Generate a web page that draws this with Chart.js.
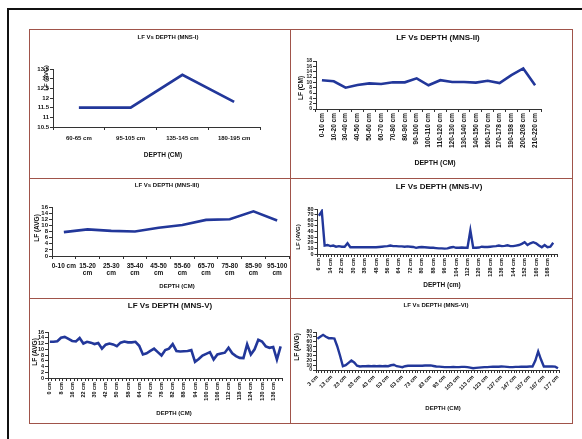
<!DOCTYPE html>
<html>
<head>
<meta charset="utf-8">
<title>LF Vs DEPTH</title>
<script src="https://cdn.jsdelivr.net/npm/chart.js@4.4.1/dist/chart.umd.min.js"></script>
<style>
  html, body { margin: 0; padding: 0; background: #fff; }
  body { width: 582px; height: 439px; position: relative; overflow: hidden; }
  .frame { position: absolute; left: 7px; top: 8px; width: 620px; height: 480px; border-left: 2px solid #111; border-top: 2px solid #111; }
  .ln { position: absolute; background: #a0544a; }
  canvas { position: absolute; }
</style>
</head>
<body>
<div class="frame"></div>
<canvas id="mns1"></canvas>
<canvas id="mns2"></canvas>
<canvas id="mns3"></canvas>
<canvas id="mns4"></canvas>
<canvas id="mns5"></canvas>
<canvas id="mns6"></canvas>
<div class="ln" style="left:29px;top:29px;width:544px;height:1px"></div>
<div class="ln" style="left:29px;top:178px;width:544px;height:1px"></div>
<div class="ln" style="left:29px;top:298px;width:544px;height:1px"></div>
<div class="ln" style="left:29px;top:423px;width:544px;height:1px"></div>
<div class="ln" style="left:29px;top:29px;width:1px;height:395px"></div>
<div class="ln" style="left:290px;top:29px;width:1px;height:395px"></div>
<div class="ln" style="left:572px;top:29px;width:1px;height:395px"></div>
<script>
// MNS-I
const mns1Depth = ["60-65 cm", "95-105 cm", "135-145 cm", "180-195 cm"]
const mns1Lf = [11.5, 11.5, 13.2, 11.8]
const mns1Ticks = [10.5, 11, 11.5, 12, 12.5, 13, 13.5]

// MNS-II
const mns2Depth = ["0-10 cm", "10-20 cm", "30-40 cm", "40-50 cm", "50-60 cm", "60-70 cm", "70-80 cm",
  "80-90 cm", "90-100 cm", "100-110 cm", "110-120 cm", "120-130 cm", "130-140 cm", "140-150 cm",
  "160-170 cm", "170-178 cm", "190-198 cm", "200-208 cm", "210-220 cm"]
const mns2Lf = [10.8, 10.4, 8.0, 9.0, 9.6, 9.4, 10.0, 10.0, 11.5, 8.9, 10.8, 10.1, 10.1, 9.9, 10.6, 9.7, 12.7, 15.2, 8.9]
const mns2Ticks = [0, 2, 4, 6, 8, 10, 12, 14, 16, 18]

// MNS-III
const mns3Depth = ["0-10 cm", "15-20 cm", "25-30 cm", "35-40 cm", "45-50 cm", "55-60 cm", "65-70 cm",
  "75-80 cm", "85-90 cm", "95-100 cm"]
const mns3Lf = [7.8, 8.7, 8.2, 8.0, 9.2, 10.1, 11.8, 12.0, 14.6, 11.6]
const mns3Ticks = [0, 2, 4, 6, 8, 10, 12, 14, 16]

// MNS-IV (depth in cm)
const mns4Depth = [6, 8, 10, 12, 14, 16, 18, 20, 22, 24, 26, 28, 30, 32, 34, 36, 38,
  42, 44, 46, 48, 50, 52, 54, 56, 58, 60, 62, 64, 66, 68, 70, 72, 74, 76, 78, 80, 82, 84, 86, 88,
  90, 92, 94, 96, 98, 100, 102, 104, 106, 108, 110, 112, 114, 116, 118, 120, 122, 124, 126, 128,
  130, 132, 134, 136, 138, 140, 142, 144, 146, 148, 150, 152, 154, 156, 158, 160, 162, 164, 166,
  168, 170, 172, 174]
const mns4Lf = [68, 76, 15, 16, 14, 15, 13, 14, 13, 13, 19, 12,
  12, 12, 12, 12, 12, 12, 12, 12, 12, 12.5, 13, 13.5, 14, 15, 14, 14, 13.5, 13.5, 13, 13.5,
  13, 12.5, 11, 12, 12.5, 12, 11.5, 11, 11, 10.5, 10, 10, 9.5, 10, 11.5, 12.5, 11, 11, 11.5,
  11, 11, 42, 11, 11, 11.5, 13, 12.5, 12.5, 13, 13.5, 14, 15, 14, 14.5, 15.5, 14, 14, 15,
  16, 18, 21, 16, 19, 21, 19, 15, 12, 16, 12, 13, 20]
const mns4Ticks = [0, 10, 20, 30, 40, 50, 60, 70, 80]

// MNS-V (depth in cm)
const mns5Depth = [0, 2, 4, 8, 10, 12, 16, 18, 20, 22, 24, 26, 30, 34, 38, 42, 44, 46, 50, 52, 54,
  58, 60, 62, 64, 66, 68, 70, 72, 74, 78, 80, 81, 82, 84, 86, 88, 90, 92, 94, 96, 98, 100, 102,
  104, 106, 108, 110, 112, 114, 116, 118, 120, 122, 124, 126, 128, 130, 132, 134, 136, 138, 140]
const mns5Lf = [12.6, 12.6, 12.8, 14.0, 14.3, 13.6, 12.9, 12.7, 13.9, 12.0, 12.6, 12.3, 11.8,
  12.2, 10.2, 11.6, 12.0, 11.7, 11.1, 12.3, 12.7, 12.4, 12.4, 12.6, 11.2, 8.2, 8.6, 9.4, 10.2,
  9.0, 7.8, 9.7, 10.2, 11.8, 9.4, 9.2, 9.3, 9.4, 9.7, 5.6, 6.6, 7.8, 8.4, 9.0, 6.4, 8.2, 8.5,
  8.8, 10.5, 8.6, 7.6, 7.0, 6.9, 11.7, 8.2, 10.0, 13.3, 12.7, 11.0, 10.5, 10.8, 6.4, 11.0]
const mns5Ticks = [0, 2, 4, 6, 8, 10, 12, 14, 16]

// MNS-VI (depth in cm)
const mns6Depth = [3, 5, 7, 9, 11, 13, 15, 17, 19, 21, 23, 25, 27, 29, 31, 33, 35, 37, 39, 41, 43,
  45, 47, 49, 51, 53, 55, 57, 59, 61, 63, 65, 67, 69, 71, 73, 75, 77, 79, 81, 83, 85, 87, 89, 91,
  93, 95, 97, 99, 101, 103, 105, 107, 109, 111, 113, 115, 117, 119, 121, 123, 129, 131, 133, 135,
  137, 139, 141, 143, 145, 147, 149, 151, 153, 155, 157, 159, 161, 163, 165, 167, 169, 171, 173,
  175, 177]
const mns6Lf = [66, 70, 74, 70, 67, 67, 66, 50, 30, 8, 10, 15, 20, 16, 9, 7.5, 8, 8, 8.5, 8, 8.5,
  8, 8.5, 8, 8.5, 8, 10, 11, 8, 7, 6, 8, 9, 9, 9, 9, 9, 9, 9.5, 9.5, 9.6, 8.5, 7.5, 7, 6.5, 6, 6,
  6, 6.5, 6, 6, 6.5, 6.5, 6, 5, 3.7, 4.5, 5, 5.5, 6, 6, 6.5, 6.7, 7, 7, 7.4, 7, 6.5, 6, 6, 6.5,
  6.5, 6.7, 7, 7, 7.4, 7.4, 20, 39, 22, 7.4, 7.4, 7.4, 7.4, 7, 3.5]
const mns6Ticks = [0, 10, 20, 30, 40, 50, 60, 70, 80]

const BLUE = "#22379a"
const AXIS = "#333333"
const INK = "#111111"
const FONT = "'Liberation Sans', Arial, sans-serif"

const cm = d => d + " cm"

const panels = [
  {
    id: "mns1", labels: mns1Depth, data: mns1Lf, yTicks: mns1Ticks,
    box: { x: 30, y: 30, w: 260, h: 148 }, area: { l: 53, t: 69, r: 260, b: 127 },
    title: { text: "LF Vs DEPTH (MNS-I)", x: 168, y: 37, size: 6 },
    xTitle: { text: "DEPTH (CM)", x: 163, y: 155, size: 6.5 },
    yTitle: { text: "LF (AVG)", x: 46, y: 78, size: 6 },
    every: 1, rotation: 0, xFont: 6, yFont: 6, xPad: 5, lineWidth: 2.8,
  },
  {
    id: "mns2", labels: mns2Depth, data: mns2Lf, yTicks: mns2Ticks,
    box: { x: 291, y: 30, w: 281, h: 148 }, area: { l: 316, t: 61, r: 541, b: 109 },
    title: { text: "LF Vs DEPTH (MNS-II)", x: 438, y: 38, size: 8 },
    xTitle: { text: "DEPTH (CM)", x: 435, y: 163, size: 7 },
    yTitle: { text: "LF (CM)", x: 301, y: 88, size: 6.5 },
    every: 1, rotation: 90, xFont: 6.5, yFont: 5, xPad: 1, lineWidth: 2.6,
  },
  {
    id: "mns3", labels: mns3Depth, data: mns3Lf, yTicks: mns3Ticks, wrap: true,
    box: { x: 30, y: 179, w: 260, h: 119 }, area: { l: 52, t: 207, r: 289, b: 256 },
    title: { text: "LF Vs DEPTH (MNS-III)", x: 167, y: 185, size: 6 },
    xTitle: { text: "DEPTH (CM)", x: 177, y: 286, size: 6 },
    yTitle: { text: "LF (AVG)", x: 37, y: 228, size: 6.5 },
    every: 1, rotation: 0, xFont: 6.5, yFont: 6, xPad: 3, lineWidth: 2.6,
  },
  {
    id: "mns4", labels: mns4Depth.map(cm), data: mns4Lf, yTicks: mns4Ticks,
    box: { x: 291, y: 179, w: 281, h: 119 }, area: { l: 317.5, t: 209, r: 557.5, b: 254 },
    title: { text: "LF Vs DEPTH (MNS-IV)", x: 439, y: 187, size: 8 },
    xTitle: { text: "DEPTH (cm)", x: 442, y: 285, size: 6.5 },
    yTitle: { text: "LF (AVG)", x: 298, y: 237, size: 6 },
    every: 4, rotation: 90, xFont: 5.5, yFont: 5.5, xPad: 1, lineWidth: 2.4,
  },
  {
    id: "mns5", labels: mns5Depth.map(cm), data: mns5Lf, yTicks: mns5Ticks,
    box: { x: 30, y: 299, w: 260, h: 124 }, area: { l: 48, t: 332, r: 282.5, b: 378 },
    title: { text: "LF Vs DEPTH (MNS-V)", x: 170, y: 306, size: 8 },
    xTitle: { text: "DEPTH (CM)", x: 174, y: 413, size: 6 },
    yTitle: { text: "LF (AVG)", x: 35, y: 352, size: 6.5 },
    every: 3, rotation: 90, xFont: 5.5, yFont: 5.5, xPad: 1, lineWidth: 2.6,
  },
  {
    id: "mns6", labels: mns6Depth.map(cm), data: mns6Lf, yTicks: mns6Ticks,
    box: { x: 291, y: 299, w: 281, h: 124 }, area: { l: 316, t: 332, r: 559.4, b: 370 },
    title: { text: "LF Vs DEPTH (MNS-VI)", x: 436, y: 305, size: 6 },
    xTitle: { text: "DEPTH (CM)", x: 443, y: 408, size: 6 },
    yTitle: { text: "LF (AVG)", x: 297, y: 347, size: 6.5 },
    every: 5, rotation: 45, xFont: 5.5, yFont: 5, xPad: 1, lineWidth: 2.4,
  },
]

// titles are written at fixed spots so they sit where the original has them
const panelText = p => ({
  id: "panelText",
  afterDraw(chart) {
    const ctx = chart.ctx
    ctx.save()
    ctx.fillStyle = INK
    ctx.textAlign = "center"
    ctx.textBaseline = "middle"
    ;[p.title, p.xTitle, p.yTitle].forEach((t, i) => {
      ctx.save()
      ctx.font = "bold " + t.size + "px " + FONT
      ctx.translate(t.x - p.box.x, t.y - p.box.y)
      if (i === 2) ctx.rotate(-Math.PI / 2)
      ctx.fillText(t.text, 0, 0)
      ctx.restore()
    })
    ctx.restore()
  },
})

panels.forEach(p => {
  const el = document.getElementById(p.id)
  el.width = p.box.w
  el.height = p.box.h
  el.style.left = p.box.x + "px"
  el.style.top = p.box.y + "px"

  const yW = p.area.l - p.box.x
  const xH = p.box.y + p.box.h - p.area.b

  new Chart(el, {
    type: "line",
    data: {
      labels: p.labels,
      datasets: [
        {
          data: p.data,
          borderColor: BLUE,
          borderWidth: p.lineWidth,
          pointRadius: 0,
          tension: 0,
          fill: false,
        },
      ],
    },
    options: {
      responsive: false,
      animation: false,
      events: [],
      layout: {
        autoPadding: false,
        padding: { left: 0, top: p.area.t - p.box.y, right: p.box.x + p.box.w - p.area.r, bottom: 0 },
      },
      plugins: {
        legend: { display: false },
        tooltip: { enabled: false },
        title: { display: false },
      },
      scales: {
        x: {
          offset: true,
          afterFit: s => {
            s.height = xH
            s.paddingLeft = 0
            s.paddingRight = 0
          },
          grid: { offset: true, drawOnChartArea: false, tickLength: 3, color: AXIS, lineWidth: 1 },
          border: { color: AXIS, width: 1 },
          ticks: {
            autoSkip: false,
            minRotation: p.rotation,
            maxRotation: p.rotation,
            padding: p.xPad,
            color: INK,
            font: { family: FONT, size: p.xFont, weight: "bold" },
            callback: function (value, i) {
              if (i % p.every !== 0) return ""
              const label = this.getLabelForValue(value)
              return p.wrap && i > 0 ? label.split(" ") : label
            },
          },
        },
        y: {
          min: p.yTicks[0],
          max: p.yTicks[p.yTicks.length - 1],
          afterBuildTicks: s => {
            s.ticks = p.yTicks.map(v => ({ value: v }))
          },
          afterFit: s => {
            s.width = yW
            s.paddingTop = 0
            s.paddingBottom = 0
          },
          grid: { drawOnChartArea: false, tickLength: 3, color: AXIS, lineWidth: 1 },
          border: { color: AXIS, width: 1 },
          ticks: {
            autoSkip: false,
            padding: 1,
            color: INK,
            font: { family: FONT, size: p.yFont, weight: "bold" },
            callback: v => String(v),
          },
        },
      },
    },
    plugins: [panelText(p)],
  })
})
</script>
</body>
</html>
